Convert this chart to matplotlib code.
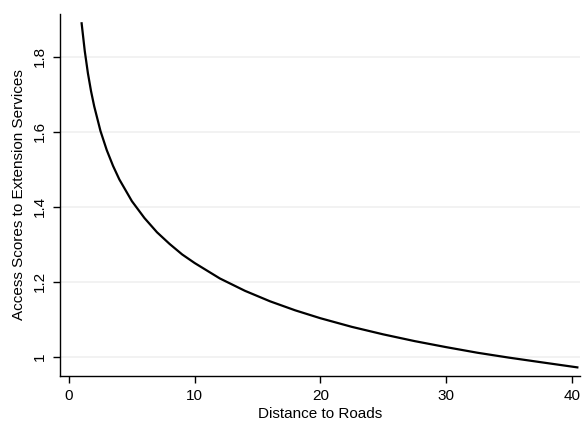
import matplotlib
matplotlib.use("Agg")
import matplotlib.pyplot as plt

# Values
distance = [1.0, 1.25, 1.5, 1.75, 2.0, 2.5, 3.0, 3.5, 4.0, 5.0, 6.0, 7.0, 8.0, 9.0,
            10.0, 12.0, 14.0, 16.0, 18.0, 20.0, 22.5, 25.0, 27.5, 30.0, 32.5,
            35.0, 37.5, 40.45]
access_score = [1.889, 1.815, 1.756, 1.708, 1.668, 1.602, 1.551, 1.509, 1.473,
                1.415, 1.370, 1.332, 1.301, 1.273, 1.250, 1.209, 1.176, 1.148,
                1.124, 1.103, 1.080, 1.060, 1.042, 1.026, 1.011, 0.998, 0.986,
                0.972]

x_ticks = [0, 10, 20, 30, 40]
y_ticks = [1.0, 1.2, 1.4, 1.6, 1.8]
y_tick_labels = ["1", "1.2", "1.4", "1.6", "1.8"]

plt.rcParams['font.family'] = ['Liberation Sans', 'DejaVu Sans']

fig = plt.figure(figsize=(5.84, 4.23), dpi=100)
ax = fig.add_axes([0.1019, 0.1111, 0.891, 0.856])

ax.plot(distance, access_score, color='black', linewidth=1.6)

ax.set_xlim(-0.76, 40.65)
ax.set_ylim(0.949, 1.914)

ax.set_xticks(x_ticks)
ax.set_yticks(y_ticks)
ax.set_yticklabels(y_tick_labels, rotation=90, va='center')
ax.tick_params(axis='both', direction='out', length=5, width=1, labelsize=11,
               color='black', pad=4)

ax.grid(axis='y', color='#efefef', linewidth=1.1)
ax.set_axisbelow(True)

for side in ['top', 'right']:
    ax.spines[side].set_visible(False)
for side in ['left', 'bottom']:
    ax.spines[side].set_linewidth(1.0)

ax.set_xlabel("Distance to Roads", fontsize=11, labelpad=3)
ax.set_ylabel("Access Scores to Extension Services", fontsize=11, labelpad=5)

fig.savefig("out.png", dpi=100)
